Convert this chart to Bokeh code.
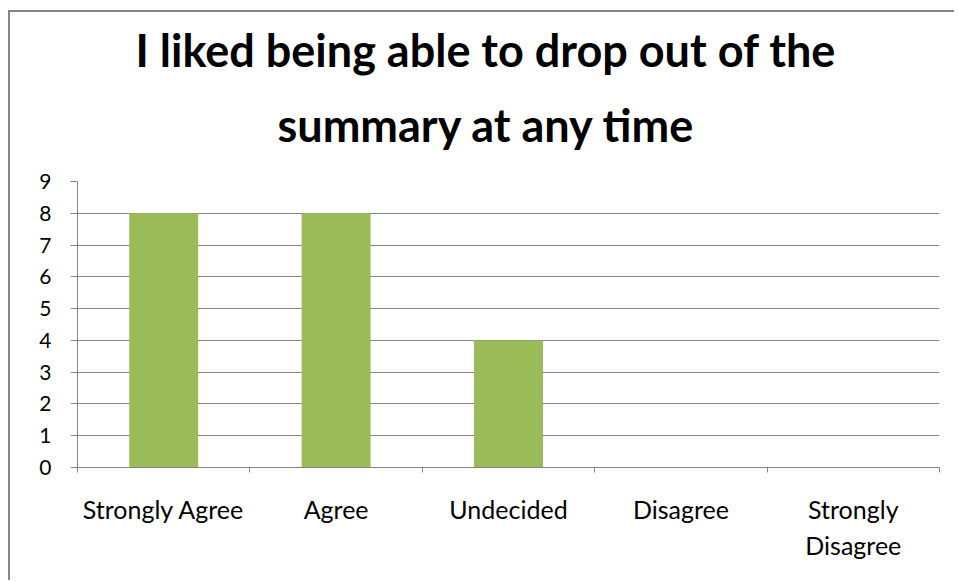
from bokeh.plotting import figure
from bokeh.models import Range1d, FixedTicker, Title
from bokeh.embed import file_html
from bokeh.resources import INLINE

title_lines = ["I liked being able to drop out of the", "summary at any time"]
categories = ["Strongly Agree", "Agree", "Undecided", "Disagree", "Strongly\nDisagree"]
values = [8, 8, 4, 0, 0]
y_ticks = [0, 1, 2, 3, 4, 5, 6, 7, 8, 9]

GRAY = "#868686"
GREEN = "#9BBB59"
FONT = "Lato"

positions = [i + 0.5 for i in range(len(categories))]
boundaries = list(range(len(categories) + 1))

p = figure(width=946, height=570, output_backend="svg", toolbar_location=None,
           x_range=Range1d(0, len(categories)), y_range=Range1d(0, 9),
           min_border_left=67, min_border_right=17, min_border_top=169,
           min_border_bottom=115, outline_line_color=None,
           border_fill_color="white", background_fill_color="white")
p.styles = {"margin-left": "10px", "margin-top": "12px",
            "box-shadow": f"-2px -2px 0 0 {GRAY}", "background-color": "white"}

p.vbar(x=positions, top=values, width=0.4, fill_color=GREEN, line_color=None)

title_style = dict(align="left", text_font=FONT, text_font_size="45px",
                   text_font_style="bold", text_color="black", text_line_height=0.9)
p.add_layout(Title(text=title_lines[1], offset=200, standoff=59, **title_style), "above")
t1 = Title(text=title_lines[0], offset=58, standoff=0, **title_style)
try:
    t1.standoff = -21
except Exception:
    t1.standoff = 0
p.add_layout(t1, "above")

xa = p.xaxis[0]
xa.ticker = FixedTicker(ticks=positions, minor_ticks=boundaries)
xa.major_label_overrides = {pos: cat for pos, cat in zip(positions, categories)}
xa.major_tick_line_color = None
xa.major_tick_out = 0
xa.major_tick_in = 0
xa.minor_tick_out = 5
xa.minor_tick_in = 0
xa.minor_tick_line_color = GRAY
xa.minor_tick_line_width = 1
xa.axis_line_color = GRAY
xa.axis_line_width = 1
xa.major_label_text_font = FONT
xa.major_label_text_font_size = "25px"
xa.major_label_text_line_height = 1.2
xa.major_label_text_color = "black"
xa.major_label_standoff = 21

ya = p.yaxis[0]
ya.ticker = FixedTicker(ticks=y_ticks)
ya.major_tick_out = 7
ya.major_tick_in = 0
ya.minor_tick_line_color = None
ya.major_tick_line_color = GRAY
ya.axis_line_color = GRAY
ya.major_label_text_font = FONT
ya.major_label_text_font_size = "21px"
ya.major_label_text_color = "black"
ya.major_label_standoff = 19

p.xgrid.visible = False
p.ygrid.ticker = FixedTicker(ticks=y_ticks)
p.ygrid.grid_line_color = GRAY
p.ygrid.grid_line_width = 1

open("out.html", "w").write(file_html(p, INLINE))
